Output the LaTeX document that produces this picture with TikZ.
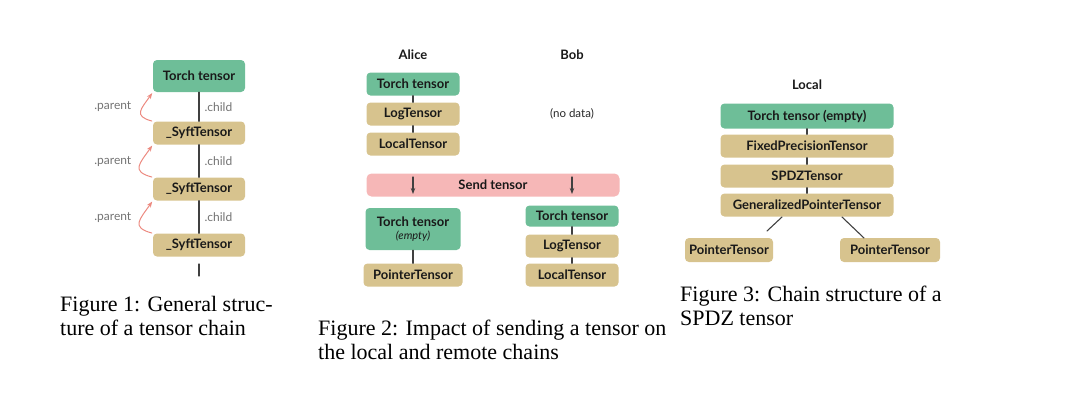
\documentclass[tikz,border=0pt]{standalone}
\usepackage{fontspec}
\setmainfont{Liberation Serif}
\newfontfamily\boxfont{Lato}
\usetikzlibrary{arrows.meta}
\definecolor{torchgreen}{RGB}{110,190,152}
\definecolor{syfttan}{RGB}{215,195,142}
\definecolor{sendpink}{RGB}{246,183,183}
\definecolor{parentred}{RGB}{236,138,128}
\tikzset{
  box/.style={rounded corners=4pt, minimum height=23pt, inner sep=2pt, text=black!90,
    font=\boxfont\bfseries\fontsize{13}{14}\selectfont},
  torch/.style={box, fill=torchgreen},
  syft/.style={box, fill=syfttan},
  link/.style={draw=black!75, line width=1.1pt},
  attr/.style={text=black!55, font=\boxfont\fontsize{12}{14}\selectfont},
  parentarrow/.style={draw=parentred, line width=1pt, -{Stealth[length=6pt]}, out=165, in=235, looseness=1.8},
  head/.style={text=black!90, font=\boxfont\bfseries\fontsize{13}{15}\selectfont},
  figcap/.style={anchor=base west, align=left, inner sep=0pt, font=\fontsize{22}{23.5}\selectfont}
}
\begin{document}
\begin{tikzpicture}[x=1pt, y=-1pt, line join=round, line cap=round]
\useasboundingbox (0,0) rectangle (1080,408);
% figure 1: general chain
\node[torch, minimum width=92pt, minimum height=32pt] (t1) at (199,76) {Torch tensor};
\foreach \i/\y in {1/133,2/189,3/245}
  {\node[syft, minimum width=92pt] (s\i) at (199,\y) {\_SyftTensor};}
\foreach \a/\b in {t1/s1,s1/s2,s2/s3}
  {\draw[link] (\a)--(\b);
   \path (\a.south)--(\b.north) node[midway, attr, anchor=west, xshift=2pt] {.child};
   \path (\a.south west)--(\b.north west) node[midway, attr, xshift=-40pt] {.parent};
   \draw[parentarrow, shorten <=1pt, shorten >=1pt] (\b.north west) to (\a.south west);}
\path (199,264) coordinate (dA) (199,276) coordinate (dB);
\draw[link] (dA)--(dB);
\node[figcap] (c1) at (60,335) {Figure 1: General struc-\\ture of a tensor chain};
% figure 2: sending a tensor
\node[head] (alice) at (413,55) {Alice};
\node[head] (bob) at (572,55) {Bob};
\node[torch, minimum width=93pt] (at) at (413,84) {Torch tensor};
\node[syft, minimum width=93pt] (al) at (413,114) {LogTensor};
\node[syft, minimum width=93pt] (ac) at (413,144) {LocalTensor};
\node[attr, text=black!85, font=\boxfont\fontsize{11.5}{13}\selectfont] (nodata) at (572,114) {(no data)};
\draw[link] (at)--(al) (al)--(ac);
\node[box, fill=sendpink, minimum width=253pt, rounded corners=5pt] (send) at (493,185) {Send tensor};
\path (413,177) coordinate (sa1) (413,194) coordinate (sa2)
      (572,177) coordinate (sb1) (572,194) coordinate (sb2);
\draw[link, -{Stealth[length=6pt]}] (sa1)--(sa2);
\draw[link, -{Stealth[length=6pt]}] (sb1)--(sb2);
\node[torch, minimum width=95pt, minimum height=42pt, align=center] (et) at (413,229)
  {Torch tensor\\[-1pt]{\mdseries\itshape\fontsize{11}{12}\selectfont (empty)}};
\node[syft, minimum width=99pt] (ep) at (413,275) {PointerTensor};
\node[torch, minimum width=93pt, minimum height=21pt] (bt) at (572,216) {Torch tensor};
\node[syft, minimum width=93pt] (bl) at (572,246) {LogTensor};
\node[syft, minimum width=93pt] (bc) at (572,275) {LocalTensor};
\draw[link] (et)--(ep) (bt)--(bl) (bl)--(bc);
\node[figcap] (c2) at (318,359) {Figure 2: Impact of sending a tensor on\\the local and remote chains};
% figure 3: SPDZ chain
\node[head] (local) at (807,85) {Local};
\node[torch, minimum width=173pt, minimum height=25pt] (lt) at (807,116) {Torch tensor (empty)};
\node[syft, minimum width=173pt] (fp) at (807,146) {FixedPrecisionTensor};
\node[syft, minimum width=173pt] (sp) at (807,176) {SPDZTensor};
\node[syft, minimum width=173pt] (gp) at (807,205) {GeneralizedPointerTensor};
\node[syft, minimum width=88pt, minimum height=24pt] (p1) at (729,250) {PointerTensor};
\node[syft, minimum width=100pt, minimum height=24pt] (p2) at (890,250) {PointerTensor};
\draw[link] (lt)--(fp) (fp)--(sp) (sp)--(gp);
\path (782,217) coordinate (g1) (842,217) coordinate (g2);
\draw[link] (g1)--(767,231) (g2)--(864,238);
\node[figcap] (c3) at (680,325) {Figure 3: Chain structure of a\\SPDZ tensor};
\end{tikzpicture}
\end{document}
